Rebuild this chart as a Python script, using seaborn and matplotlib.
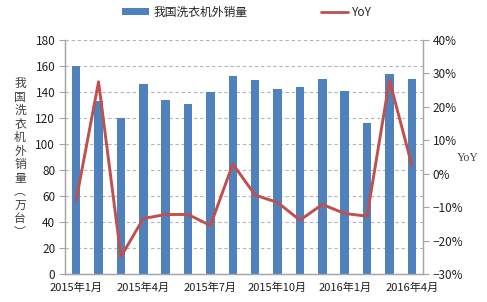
import matplotlib
matplotlib.use("Agg")
import matplotlib.pyplot as plt
import seaborn as sns
import numpy as np
import pandas as pd
from matplotlib.patches import Patch
from matplotlib.lines import Line2D
from matplotlib.ticker import FixedLocator, PercentFormatter

months = ["2015年1月", "2015年2月", "2015年3月", "2015年4月", "2015年5月", "2015年6月",
          "2015年7月", "2015年8月", "2015年9月", "2015年10月", "2015年11月", "2015年12月",
          "2016年1月", "2016年2月", "2016年3月", "2016年4月"]
exports = [160, 133, 120, 146, 134, 131, 140, 152, 149, 142, 144, 150, 141, 116, 154, 150]
yoy = [-7.9, 27.5, -24.8, -13.4, -12.2, -12.2, -15.5, 2.9, -6.4, -8.6, -13.9, -9.2, -11.9, -12.7, 28.0, 2.6]
bar_label = "我国洗衣机外销量"
line_label = "YoY"
left_ylabel = "我国洗衣机外销量︵万台︶"

sns.set_theme(style="white")
plt.rcParams['font.family'] = ['Noto Sans CJK SC', 'DejaVu Sans']

df = pd.DataFrame({"idx": np.arange(len(months)), "month": months, "exports": exports, "yoy": yoy})

fig = plt.figure(figsize=(4.87, 3.02), dpi=100)
ax = fig.add_axes([65/487, 1-274/302, (423-65)/487, (274-40)/302])

bar_color = "#4F81BD"
line_color = "#C0504D"
grid_color = "#A6A6A6"

sns.barplot(data=df, x="idx", y="exports", color=bar_color, width=0.38, ax=ax,
            saturation=1, linewidth=0)
ax.set_xlim(-0.5, 15.5)
ax.set_ylim(0, 180)
ax.yaxis.set_major_locator(FixedLocator(np.arange(0, 181, 20)))
ax.grid(axis="y", linestyle=(0, (3, 2.5)), color="#B4B4B4", linewidth=0.8)
ax.set_axisbelow(True)

label_pos = [0, 3, 6, 9, 12, 15]
ax.set_xticks(label_pos)
ax.set_xticklabels([months[i] for i in label_pos])
ax.set_xticks([p - 0.5 for p in label_pos], minor=True)
ax.tick_params(axis="x", which="major", length=0, pad=6, labelsize=8, labelcolor="#202020")
ax.tick_params(axis="x", which="minor", length=4, width=0.8, color=grid_color, direction="out")
ax.tick_params(axis="y", length=4, width=0.8, color=grid_color, direction="out", left=True,
               labelsize=8.5, pad=3, labelcolor="#202020")
ax.set_xlabel("")
ax.set_ylabel("")

ax2 = ax.twinx()
sns.lineplot(data=df, x="idx", y="yoy", color=line_color, linewidth=2.1, ax=ax2)
ax2.set_ylim(-30, 40)
ax2.yaxis.set_major_locator(FixedLocator(np.arange(-30, 41, 10)))
ax2.yaxis.set_major_formatter(PercentFormatter(decimals=0))
ax2.tick_params(axis="y", length=4, width=0.8, color=grid_color, direction="out", right=True,
                labelsize=8.5, pad=3, labelcolor="#202020")
ax2.set_ylabel("")
ax2.set_xlim(-0.5, 15.5)

for a in (ax, ax2):
    a.spines["top"].set_visible(False)
    for s in ("left", "right", "bottom"):
        a.spines[s].set_color(grid_color)
        a.spines[s].set_linewidth(0.9)

fig.text(20/487, 1-158/302, "\n".join(left_ylabel), ha="center", va="center",
         fontsize=8.5, color="#404040", linespacing=1.05)
fig.text(468/487, 1-158/302, "YoY", ha="center", va="center", fontsize=8.5,
         color="#404040", family=["Liberation Serif", "DejaVu Serif"])

handles = [Patch(facecolor=bar_color, edgecolor="none"),
           Line2D([0], [0], color=line_color, linewidth=2)]
fig.legend(handles, [bar_label, line_label], loc="center", bbox_to_anchor=(247/487, 1-12/302),
           ncol=2, frameon=False, fontsize=8.5, handlelength=2.3, handleheight=0.6,
           columnspacing=6.2, handletextpad=0.35)

fig.savefig("out.png", dpi=100)
